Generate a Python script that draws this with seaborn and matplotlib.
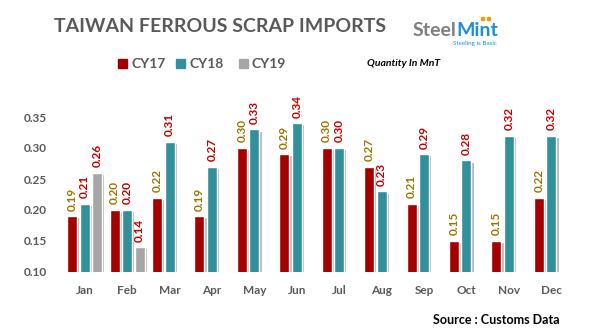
import numpy as np
import pandas as pd
import matplotlib
matplotlib.use("Agg")
import matplotlib.pyplot as plt
import matplotlib.patheffects as pe
from matplotlib.patches import Rectangle
import seaborn as sns

months = ["Jan", "Feb", "Mar", "Apr", "May", "Jun",
          "Jul", "Aug", "Sep", "Oct", "Nov", "Dec"]
cy17 = [0.19, 0.20, 0.22, 0.19, 0.30, 0.29, 0.30, 0.27, 0.21, 0.15, 0.15, 0.22]
cy18 = [0.21, 0.20, 0.31, 0.27, 0.33, 0.34, 0.30, 0.23, 0.29, 0.28, 0.32, 0.32]
cy19 = [0.26, 0.14] + [np.nan] * 10
years = ["CY17", "CY18", "CY19"]
yticks = [0.10, 0.15, 0.20, 0.25, 0.30, 0.35]

bar_colors = {"CY17": "#A50000", "CY18": "#31909C", "CY19": "#A6A6A6"}
label_colors = {"CY17": "#9C7400", "CY18": "#C00000", "CY19": "#C00000"}
grey_txt = "#595959"

sns.set_theme(style="white")
plt.rcParams["font.family"] = ["Lato", "DejaVu Sans"]

df = pd.DataFrame({
    "Month": months * 3,
    "Year": ["CY17"] * 12 + ["CY18"] * 12 + ["CY19"] * 12,
    "Qty": cy17 + cy18 + cy19,
})

W, H = 603, 335
fig = plt.figure(figsize=(W / 100, H / 100), dpi=100)
# axes placed in pixel terms: x from 55 to 581, y from 0.10 (272px) to 0.40 (86px)
ax = fig.add_axes([55 / W, 1 - 272 / H, (581 - 55) / W, (272 - 86) / H])

sns.barplot(data=df, x="Month", y="Qty", hue="Year", order=months,
            hue_order=years, palette=bar_colors, width=0.885, gap=0.2,
            saturation=1, legend=False, ax=ax)

ax.set_ylim(0.10, 0.40)
ax.set_xlim(-0.7, 11.7)
ax.set_yticks(yticks)
ax.set_yticklabels([f"{v:.2f}" for v in yticks], fontsize=8.5,
                   fontweight="bold", color=grey_txt)
ax.set_xticks(range(12))
ax.set_xticklabels(months, fontsize=8.5, fontweight="bold", color=grey_txt)
ax.tick_params(axis="y", length=0, pad=6)
ax.tick_params(axis="x", length=0, pad=9)
ax.set_xlabel("")
ax.set_ylabel("")
for s in ax.spines.values():
    s.set_visible(False)
ax.grid(False)

shadow = [pe.SimplePatchShadow(offset=(1.6, -1.6), shadow_rgbFace="#7f7f7f", alpha=0.55),
          pe.Normal()]
for cont, year in zip(ax.containers, years):
    for bar in cont:
        bar.set_path_effects(shadow)
    vals = [f"{v:.2f}" if not np.isnan(v) else "" for v in cont.datavalues]
    ax.bar_label(cont, labels=vals, rotation=90, padding=4, fontsize=8.5,
                 fontweight="bold", color=label_colors[year], clip_on=False)

# title and logo
fig.text(220 / W, 1 - 27 / H, "TAIWAN FERROUS SCRAP IMPORTS", ha="center",
         va="center", fontsize=14, fontweight="bold", color=grey_txt)
t1 = fig.text(413 / W, 1 - 31 / H, "Steel", ha="left", va="center",
              fontsize=14, fontweight="bold", color="#7F7F7F")
fig.canvas.draw()
bb = t1.get_window_extent()
fig.text(bb.x1 / W, 1 - 31 / H, "Mint", ha="left", va="center",
         fontsize=14, fontweight="bold", color="#1E8FD5")
fig.text(497 / W, 1 - 44 / H, "Steeling is Basic", ha="right", va="center",
         fontsize=4.5, color="#1E8FD5")
for dx in (0, 6):
    fig.patches.append(Rectangle(((481 + dx) / W, 1 - 20 / H), 3 / W, 3 / H,
                                 transform=fig.transFigure, color="#F39C12"))

# legend row
leg_x = [(118, "CY17"), (176, "CY18"), (239, "CY19")]
for x0, yr in leg_x:
    fig.patches.append(Rectangle((x0 / W, 1 - 68 / H), 9 / W, 9 / H,
                                 transform=fig.transFigure, color=bar_colors[yr]))
    fig.text((x0 + 13) / W, 1 - 63.5 / H, yr, ha="left", va="center",
             fontsize=10, fontweight="bold", color=grey_txt)

fig.text(367 / W, 1 - 64 / H, "Quantity In MnT", ha="left", va="center",
         fontsize=7.5, fontweight="bold", fontstyle="italic", color="black")
fig.text(560 / W, 1 - 320 / H, "Source : Customs Data", ha="right", va="center",
         fontsize=9, fontweight="bold", color="black")

fig.savefig("out.png", dpi=100, facecolor="white")
